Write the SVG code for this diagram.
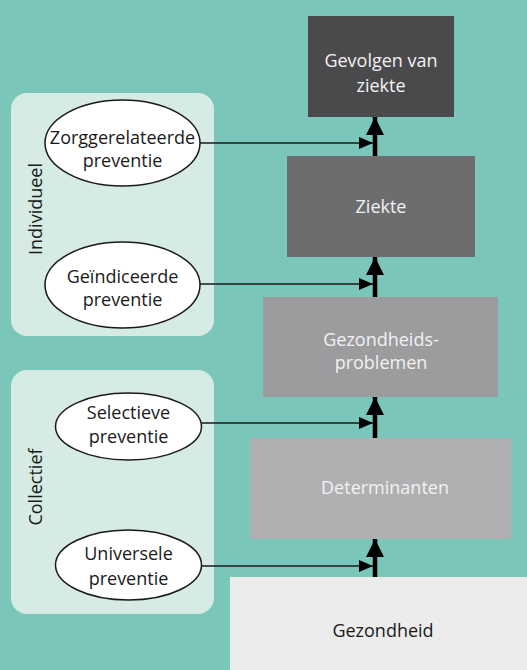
<svg xmlns="http://www.w3.org/2000/svg" width="527" height="670" viewBox="0 0 527 670">
<defs>
<style>
text{font-family:"Open Sans","Noto Sans","Liberation Sans",sans-serif;font-size:18px;text-anchor:middle}
.lt{fill:#f2f2f2}
.dk{fill:#1a1a1a}
.panel{fill:#d5ebe4}
.ell{fill:#ffffff;stroke:#1a1a1a;stroke-width:1.5}
.conn{stroke:#1a1a1a;stroke-width:1.6;fill:none;marker-end:url(#ah)}
.up{stroke:#000;stroke-width:4.5;fill:none;marker-end:url(#au)}
</style>
<marker id="ah" viewBox="0 0 14 12" refX="14" refY="6" markerWidth="14" markerHeight="12" markerUnits="userSpaceOnUse" orient="auto">
<path d="M0,0 L14,6 L0,12 Z" fill="#000"/>
</marker>
<marker id="au" viewBox="0 0 18 18" refX="18" refY="9" markerWidth="18" markerHeight="18" markerUnits="userSpaceOnUse" orient="auto">
<path d="M0,0 L18,9 L0,18 Z" fill="#000"/>
</marker>
</defs>
<rect width="527" height="670" fill="#7ac6bb"/>

<g id="individueel">
<rect class="panel" x="11" y="93" width="203" height="243" rx="16"/>
<text class="dk" transform="translate(42,209) rotate(-90)">Individueel</text>
</g>
<g id="collectief">
<rect class="panel" x="11" y="370" width="203" height="244" rx="16"/>
<text class="dk" transform="translate(42,487) rotate(-90)">Collectief</text>
</g>

<g id="zorggerelateerde">
<ellipse class="ell" cx="122.5" cy="143" rx="77.5" ry="43"/>
<text class="dk" x="122.5" y="144">Zorggerelateerde</text>
<text class="dk" x="122.5" y="167">preventie</text>
</g>
<g id="geindiceerde">
<ellipse class="ell" cx="122.5" cy="285" rx="77.5" ry="43"/>
<text class="dk" x="122.5" y="283">Geïndiceerde</text>
<text class="dk" x="122.5" y="306">preventie</text>
</g>
<g id="selectieve">
<ellipse class="ell" cx="128.5" cy="426.5" rx="73" ry="33.5"/>
<text class="dk" x="128.5" y="419">Selectieve</text>
<text class="dk" x="128.5" y="443">preventie</text>
</g>
<g id="universele">
<ellipse class="ell" cx="128.5" cy="565" rx="73" ry="35"/>
<text class="dk" x="128.5" y="560">Universele</text>
<text class="dk" x="128.5" y="585">preventie</text>
</g>

<g id="gevolgen">
<rect x="308" y="16" width="146" height="101" fill="#4a494b"/>
<text class="lt" x="381" y="67">Gevolgen van</text>
<text class="lt" x="381" y="92">ziekte</text>
</g>
<g id="ziekte">
<rect x="287" y="156" width="188" height="101" fill="#6d6d6f"/>
<text class="lt" x="381" y="213">Ziekte</text>
</g>
<g id="gezondheidsproblemen">
<rect x="263" y="297" width="235" height="100" fill="#9c9b9e"/>
<text class="lt" x="381" y="346">Gezondheids-</text>
<text class="lt" x="381" y="369">problemen</text>
</g>
<g id="determinanten">
<rect x="250" y="438" width="261" height="101" fill="#b0b0b3"/>
<text class="lt" x="385" y="494">Determinanten</text>
</g>
<g id="gezondheid">
<rect x="230" y="577" width="297" height="93" fill="#ececec"/>
<text class="dk" x="383" y="637">Gezondheid</text>
</g>

<g id="connectors">
<line class="up" x1="375" y1="156" x2="375" y2="117"/>
<line class="up" x1="375" y1="297" x2="375" y2="257"/>
<line class="up" x1="375" y1="438" x2="375" y2="397"/>
<line class="up" x1="375" y1="577" x2="375" y2="539"/>
<line class="conn" x1="200" y1="143" x2="373" y2="143"/>
<line class="conn" x1="200" y1="284" x2="373" y2="284"/>
<line class="conn" x1="201.5" y1="423" x2="373" y2="423"/>
<line class="conn" x1="201.5" y1="566" x2="373" y2="566"/>
</g>
</svg>
